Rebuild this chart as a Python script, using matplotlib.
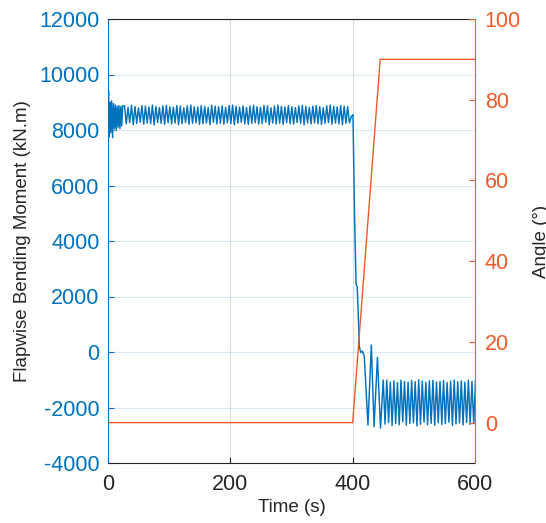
import matplotlib.pyplot as plt
import numpy as np

plt.rcParams['font.family'] = ['Liberation Sans', 'DejaVu Sans']
plt.rcParams['axes.unicode_minus'] = False

BLUE = '#0072BD'
ORANGE = '#F05A28'
DARK = '#262626'

# flapwise moment, start-up transient (time, value)
t_start = [0, 0.8, 2.0, 3.2, 4.5, 6.0, 7.5, 9.0, 10.5, 12.0, 13.5, 15.0,
           16.5, 18.0, 19.5, 21.0, 22.5, 24.0]
m_start = [8500, 9400, 7750, 9000, 7900, 9050, 7720, 8950, 8050, 8900, 7980,
           8850, 8100, 8880, 8050, 8850, 8150, 8870]

# steady operation before the event: peaks and troughs of each cycle
pre_peaks = [8870, 8820, 8890, 8850, 8800, 8880, 8860, 8830, 8900, 8850, 8810,
             8870, 8890, 8840, 8820, 8880, 8860, 8800, 8870, 8900, 8840, 8830,
             8880, 8850, 8810, 8890, 8860, 8840, 8870, 8820, 8880, 8900, 8850,
             8830, 8870, 8810, 8860, 8890, 8840, 8820, 8880, 8870, 8800, 8860,
             8900, 8850, 8830, 8880, 8840, 8810, 8870, 8890, 8850, 8820, 8860,
             8880, 8840, 8800, 8870, 8900, 8850, 8830, 8880, 8860, 8840]
pre_troughs = [8220, 8260, 8190, 8240, 8280, 8210, 8250, 8230, 8180, 8270,
               8240, 8200, 8260, 8220, 8250, 8190, 8230, 8270, 8210, 8240,
               8260, 8200, 8230, 8250, 8190, 8280, 8220, 8240, 8210, 8260,
               8230, 8190, 8250, 8270, 8220, 8200, 8240, 8260, 8210, 8230,
               8280, 8190, 8250, 8220, 8240, 8200, 8260, 8230, 8210, 8270,
               8240, 8190, 8250, 8220, 8260, 8230, 8200, 8240, 8270, 8210,
               8250, 8220, 8190, 8240, 8260]
pre_t0, pre_step = 27.0, 2.85

# pitch-to-feather transition (time, value)
t_event = [398.0, 400.5, 403.0, 405.5, 407.5, 411.0, 413.0, 416.0, 419.0,
           425.0, 430.5, 435.0, 440.5, 445.5, 450.0]
m_event = [8500, 8550, 5000, 2450, 2350, 200, -20, 30, -150,
           -2630, 250, -2690, -190, -2740, -1010]

# feathered, parked oscillation: troughs and peaks of each cycle
post_troughs = [-2600, -2540, -2650, -2570, -2620, -2520, -2640, -2580, -2550,
                -2660, -2600, -2530, -2620, -2570, -2640, -2550, -2610, -2580,
                -2530, -2650, -2590, -2560, -2630, -2540, -2610, -2580]
post_peaks = [-1010, -1080, -1040, -1100, -1020, -1060, -1090, -1030, -1070,
              -1000, -1050, -1090, -1040, -1020, -1080, -1060, -1030, -1100,
              -1050, -1010, -1070, -1040, -1090, -1020, -1060, -1030]
post_t0, post_step = 452.9, 2.9

# blade pitch angle
t_angle = [0, 400, 445, 600]
angle = [0, 0, 90, 90]

pre_vals = [v for pair in zip(pre_peaks, pre_troughs) for v in pair]
pre_t = pre_t0 + pre_step * np.arange(len(pre_vals))
post_vals = [v for pair in zip(post_troughs, post_peaks) for v in pair]
post_t = post_t0 + post_step * np.arange(len(post_vals))

t_all = np.concatenate([t_start, pre_t, t_event, post_t])
m_all = np.concatenate([m_start, pre_vals, m_event, post_vals])

fig = plt.figure(figsize=(5.46, 5.23), dpi=100)
ax = fig.add_axes([108 / 546, 1 - 463 / 523, 367 / 546, 444 / 523])
ax.plot(t_all, m_all, color=BLUE, lw=1.05)
ax.set_xlim(0, 600)
ax.set_ylim(-4000, 12000)
ax.set_xticks([0, 200, 400, 600])
ax.set_yticks(np.arange(-4000, 12001, 2000))
ax.grid(axis='y', color=BLUE, alpha=0.15, lw=0.8)
ax.grid(axis='x', color=DARK, alpha=0.15, lw=0.8)
ax.tick_params(axis='y', colors=BLUE, direction='in', length=4, labelsize=15.5, pad=6)
ax.tick_params(axis='x', colors=DARK, direction='in', length=4, labelsize=15.5, pad=8)
ax.set_xlabel('Time (s)', fontsize=13.5, color=DARK, labelpad=3)
ax.set_ylabel('Flapwise Bending Moment (kN.m)', fontsize=13.5, color=DARK, labelpad=6)
ax.spines['left'].set_color(BLUE)
ax.spines['bottom'].set_color(DARK)
ax.spines['top'].set_color(DARK)
ax.spines['right'].set_visible(False)

ax2 = ax.twinx()
ax2.plot(t_angle, angle, color=ORANGE, lw=1.0)
ax2.set_ylim(-10, 100)
ax2.set_yticks([0, 20, 40, 60, 80, 100])
ax2.tick_params(axis='y', colors=ORANGE, direction='in', length=4, labelsize=15.5, pad=7)
ax2.spines['right'].set_color(ORANGE)
for s in ['left', 'top', 'bottom']:
    ax2.spines[s].set_visible(False)
fig.text(541.5 / 546, 1 - 241 / 523, 'Angle (°)', rotation=90, ha='center',
         va='center', fontsize=13.5, color=DARK)

fig.savefig('out.png', dpi=100)
